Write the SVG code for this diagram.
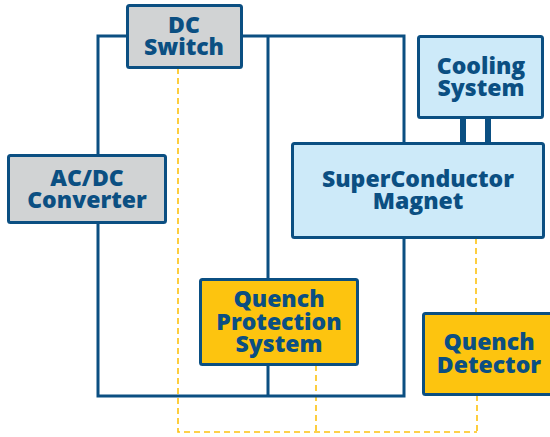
<svg xmlns="http://www.w3.org/2000/svg" width="550" height="437" viewBox="0 0 550 437">
<style>
.wire{fill:none;stroke:#0B4F82;stroke-width:3;stroke-linejoin:miter}
.sig{fill:none;stroke:#FDC20F;stroke-width:1.6;stroke-dasharray:6 4}
.box{stroke:#0B4F82;stroke-width:3}
.gray{fill:#D1D3D4}
.blue{fill:#CDEAF9}
.yel{fill:#FDC40F}
text{font-family:"Open Sans","Liberation Sans",sans-serif;font-weight:800;font-size:23px;fill:#0B4F82;text-anchor:middle}
</style>
<rect width="550" height="437" fill="#fff"/>
<g id="connectors">
<path class="sig" d="M178 68 V432 H477 M316 365 V432 M476 238 V313 M477 395 V432"/>
<path class="wire" d="M127 36 H98 V396 H404 V36 H242"/>
<path class="wire" d="M268 36 V279 M268 365 V396"/>
<path class="wire" d="M404 143 V238"/>
<path fill="none" stroke="#0B4F82" stroke-width="6" d="M463 118 V143 M488 118 V143"/>
</g>
<g id="dc-switch"><rect class="box gray" x="127.5" y="5.5" width="114" height="62" rx="2"/><text x="184" y="33">DC<tspan x="184" y="55">Switch</tspan></text></g>
<g id="ac-dc"><rect class="box gray" x="8.5" y="155.5" width="157" height="67" rx="2"/><text x="87" y="186">AC/DC<tspan x="87" y="208">Converter</tspan></text></g>
<g id="cooling"><rect class="box blue" x="418.5" y="36.5" width="124" height="81" rx="2"/><text x="481" y="74">Cooling<tspan x="481" y="96">System</tspan></text></g>
<g id="magnet"><rect class="box blue" x="292.5" y="143.5" width="251" height="94" rx="2"/><text x="418" y="187">SuperConductor<tspan x="418" y="209">Magnet</tspan></text></g>
<g id="qps"><rect class="box yel" x="200.5" y="279.5" width="157" height="85" rx="2"/><text x="279" y="307">Quench<tspan x="279" y="330">Protection</tspan><tspan x="279" y="352">System</tspan></text></g>
<g id="detector"><rect class="box yel" x="423.5" y="313.5" width="130" height="81" rx="2"/><text x="489" y="350">Quench<tspan x="489" y="373">Detector</tspan></text></g>
</svg>
